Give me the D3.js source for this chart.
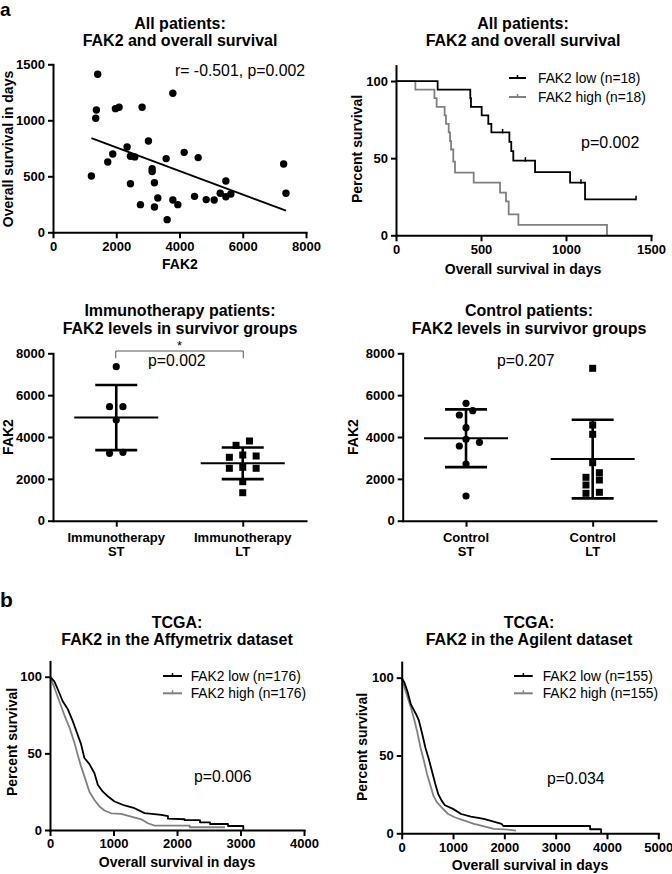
<!DOCTYPE html>
<html><head><meta charset="utf-8">
<script src="https://cdn.jsdelivr.net/npm/d3@7/dist/d3.min.js"></script>
<style>
html,body{margin:0;padding:0;background:#fff;}
svg{display:block;}
</style></head>
<body>
<svg id="chart" width="672" height="874"></svg>
<script>
// ================= DATA =================
// Panel a1: scatter FAK2 vs overall survival (36 patients)
const scatterFAK2 = [1214,1351,1372,1414,1731,1889,1974,2090,2343,2449,2449,2586,2765,2818,3018,3135,3135,3208,3208,3314,3578,3609,3789,3789,3947,4148,4475,4591,4844,5097,5287,5466,5466,5625,7293,7367];
const scatterOS   = [503,1018,1092,1411,628,699,1104,1116,762,679,434,673,247,1116,815,568,542,443,226,306,658,113,1241,289,247,714,321,667,292,289,348,458,318,342,610,348];
const scatterXTicks = [0,2000,4000,6000,8000];
const scatterYTicks = [0,500,1000,1500];
const scatterStats = "r= -0.501, p=0.002";

// Panel a2: Kaplan-Meier, all patients
const kmTopLowTime  = [0,245,437,441,504,543,561,667,678,690,818,1024,1112,1412];
const kmTopLowSurv  = [100,94.4,88.9,83.3,77.8,72.2,66.7,60.6,54.5,48.4,41.0,34.1,23.3,23.3];
const kmTopLowCensor = [627,761,1088,1412];
const kmTopHighTime = [0,114,226,239,286,294,310,318,324,337,347,457,612,647,663,720,1241];
const kmTopHighSurv = [100,94.4,88.9,83.3,77.8,72.2,66.7,61.1,55.6,47.7,40.6,34.1,27.6,22.0,13.6,6.8,0];
const kmTopXTicks = [0,500,1000,1500];
const kmYTicks = [0,50,100];
const kmTopLegend = ["FAK2 low (n=18)","FAK2 high (n=18)"];
const kmTopP = "p=0.002";

// Panel a3: immunotherapy dot plot
const immunoGroups = ["Immunotherapy ST","Immunotherapy LT"];
const immunoST = [7360,5448,5448,4812,3269,3221];
const immunoLT = [3809,3603,3140,3092,3030,2552,2504,2504,1864,1338];
const immunoP = "p=0.002";

// Panel a4: control dot plot
const controlGroups = ["Control ST","Control LT"];
const controlST = [5610,5257,5052,4444,3890,3746,3570,2710,1180];
const controlLT = [7283,4573,4129,2772,2294,2074,1945,1706,1357,1309];
const controlP = "p=0.207";
const dotYTicks = [0,2000,4000,6000,8000];

// Panel b1: TCGA Affymetrix
const affyLowTime  = [0,68,121,200,279,358,437,489,542,621,700,753,832,910,1016,1174,1332,1489,1753,1858,1858,2120,2120,2362,2362,2520,2520,2803,2803,3044,3044];
const affyLowSurv  = [100,97,92,84,79,71,62,56,47,43,37,29.5,25,22,18.6,16,14.2,11,9.8,9.0,7.4,7.0,6.4,6.4,5.0,5.0,3.9,3.9,2.6,2.6,0];
const affyHighTime = [0,68,147,226,305,384,437,489,542,621,700,779,858,963,1121,1279,1437,1542,1647,2200,2200,2756];
const affyHighSurv = [100,93,84,75,67,57,49,41.5,35,25,19.6,15.3,12.7,10.9,10.5,8.7,7,4.4,2.8,2.8,1.8,1.8];
const affyXTicks = [0,1000,2000,3000,4000];
const affyLegend = ["FAK2 low (n=176)","FAK2 high (n=176)"];
const affyP = "p=0.006";

// Panel b2: TCGA Agilent
const agiLowTime  = [0,51,114,177,272,335,399,462,525,589,652,715,778,842,1000,1158,1348,1601,1791,1949,1981,3671,3671,3885,3885];
const agiLowSurv  = [100,97,91,83,77,72.5,64,55,48,40,32,25,21,18,15.7,12.4,10.7,9.2,7.5,6,4.7,4.7,2.6,2.6,0];
const agiHighTime = [0,51,114,177,240,304,367,430,494,557,620,684,778,905,1032,1221,1411,1664,1791,2076,2228];
const agiHighSurv = [100,94,87.5,81,73.6,65,55,47,38,31,24,20,16.7,12.4,10.3,8.2,6,3.9,2.8,2.4,1.7];
const agiXTicks = [0,1000,2000,3000,4000,5000];
const agiLegend = ["FAK2 low (n=155)","FAK2 high (n=155)"];
const agiP = "p=0.034";

// ================= DRAWING =================
const FONT = '"Liberation Sans", Arial, Helvetica, sans-serif';
const GRAY = "#808080";
const svg = d3.select("#chart");

function txt(x, y, s, o = {}) {
  const t = svg.append("text").attr("x", x).attr("y", y).text(s)
    .attr("font-family", FONT)
    .attr("font-size", o.size || 13)
    .attr("font-weight", o.bold ? "bold" : "normal")
    .attr("text-anchor", o.anchor || "start")
    .attr("fill", o.fill || "#000");
  if (o.rotate) t.attr("transform", `rotate(-90,${x},${y})`);
  return t;
}
function styleAxis(g) {
  g.attr("font-family", null).attr("font-size", null);
  g.select(".domain").attr("stroke", "#000").attr("stroke-width", 2).attr("stroke-linecap", "square");
  g.selectAll(".tick line").attr("stroke", "#000").attr("stroke-width", 2);
  g.selectAll(".tick text").attr("font-family", FONT).attr("font-weight", "bold")
    .attr("font-size", 13).attr("fill", "#000");
}
function leftAxis(scale, x, ticks) {
  const g = svg.append("g").attr("transform", `translate(${x},0)`)
    .call(d3.axisLeft(scale).tickValues(ticks).tickSize(5).tickPadding(3).tickSizeOuter(0).tickFormat(d3.format("d")));
  styleAxis(g); return g;
}
function bottomAxis(scale, y, ticks, fmt) {
  let ax = d3.axisBottom(scale).tickSize(6).tickPadding(3).tickSizeOuter(0);
  if (ticks) ax = ax.tickValues(ticks);
  ax = ax.tickFormat(fmt || d3.format("d"));
  const g = svg.append("g").attr("transform", `translate(0,${y})`).call(ax);
  styleAxis(g); return g;
}
function title(cx, y1, l1, l2, gap) {
  txt(cx, y1, l1, {size: 16, bold: true, anchor: "middle"});
  txt(cx, y1 + gap, l2, {size: 16, bold: true, anchor: "middle"});
}
function legend(x1, x2, ys, labels, tx) {
  const cols = ["#000", GRAY];
  ys.forEach((y, i) => {
    svg.append("line").attr("x1", x1).attr("x2", x2).attr("y1", y).attr("y2", y)
      .attr("stroke", cols[i]).attr("stroke-width", 2);
    svg.append("line").attr("x1", (x1 + x2) / 2).attr("x2", (x1 + x2) / 2).attr("y1", y - 3).attr("y2", y)
      .attr("stroke", cols[i]).attr("stroke-width", 1.5);
    txt(tx, y + 5, labels[i], {size: 13.8});
  });
}

// Panel labels
txt(0, 16, "a", {size: 19, bold: true});
txt(0, 607, "b", {size: 21, bold: true});

// ---------- a1 scatter ----------
{
  const x = d3.scaleLinear([0, 8000], [53, 306]);
  const y = d3.scaleLinear([0, 1500], [232.3, 64.3]);
  title(180, 29, "All patients:", "FAK2 and overall survival", 16.5);
  const pts = scatterFAK2.map((v, i) => [v, scatterOS[i]]);
  // least squares fit from the data
  const mx = d3.mean(scatterFAK2), my = d3.mean(scatterOS);
  const sxy = d3.sum(pts, p => (p[0] - mx) * (p[1] - my));
  const sxx = d3.sum(pts, p => (p[0] - mx) ** 2);
  const b = sxy / sxx, a = my - b * mx;
  const [x0, x1] = d3.extent(scatterFAK2);
  svg.append("line").attr("x1", x(x0)).attr("y1", y(a + b * x0)).attr("x2", x(x1)).attr("y2", y(a + b * x1))
    .attr("stroke", "#000").attr("stroke-width", 2);
  svg.append("g").selectAll("circle").data(pts).join("circle")
    .attr("cx", d => x(d[0])).attr("cy", d => y(d[1])).attr("r", 3.7).attr("fill", "#000");
  leftAxis(y, 53, scatterYTicks);
  bottomAxis(x, 232.3, scatterXTicks);
  txt(175, 76, scatterStats, {size: 15.8});
  txt(180, 268.5, "FAK2", {size: 14, bold: true, anchor: "middle"});
  txt(13, 149, "Overall survival in days", {size: 14, bold: true, anchor: "middle", rotate: true});
}

// ---------- KM helper ----------
function kmStep(x, y, times, surv, color) {
  const line = d3.line().x(d => x(d[0])).y(d => y(d[1])).curve(d3.curveStepAfter);
  svg.append("path").attr("d", line(times.map((t, i) => [t, surv[i]])))
    .attr("fill", "none").attr("stroke", color).attr("stroke-width", 1.8);
}
function kmLinear(x, y, times, surv, color) {
  const line = d3.line().x(d => x(d[0])).y(d => y(d[1]));
  svg.append("path").attr("d", line(times.map((t, i) => [t, surv[i]])))
    .attr("fill", "none").attr("stroke", color).attr("stroke-width", 1.8).attr("stroke-linejoin", "round");
}

// ---------- a2 KM ----------
{
  const x = d3.scaleLinear([0, 1500], [396, 651]);
  const y = d3.scaleLinear([0, 110], [235.3, 65.6]);
  title(523, 29, "All patients:", "FAK2 and overall survival", 16.5);
  kmStep(x, y, kmTopHighTime, kmTopHighSurv, GRAY);
  kmStep(x, y, kmTopLowTime, kmTopLowSurv, "#000");
  kmTopLowCensor.forEach(t => {
    const i = d3.bisectRight(kmTopLowTime, t) - 1;
    const yy = y(kmTopLowSurv[i]);
    svg.append("line").attr("x1", x(t)).attr("x2", x(t)).attr("y1", yy - 3.5).attr("y2", yy + 1)
      .attr("stroke", "#000").attr("stroke-width", 1.5);
  });
  leftAxis(y, 396, kmYTicks);
  bottomAxis(x, 235.3, kmTopXTicks);
  legend(509, 526, [78, 97], kmTopLegend, 538);
  txt(581, 148, kmTopP, {size: 16});
  txt(523, 273.5, "Overall survival in days", {size: 14, bold: true, anchor: "middle"});
  txt(362, 149, "Percent survival", {size: 14, bold: true, anchor: "middle", rotate: true});
}

// ---------- dot plot helpers ----------
function swarm(values, y, cx) {
  const step = 6.7, L = 7.8, D = 8.5;
  const pts = values.map(v => ({v, y: y(v), slot: 0}));
  const sorted = pts.slice().sort((p, q) => p.y - q.y);
  const chains = [];
  sorted.forEach((p, i) => {
    if (i > 0 && p.y - sorted[i - 1].y < L) chains[chains.length - 1].push(p);
    else chains.push([p]);
  });
  chains.forEach(ch => {
    if (ch.length % 2 === 0) { ch.forEach((p, i) => p.slot = i % 2 === 0 ? 1 : -1); return; }
    let side = 1; const placed = [];
    ch.forEach(p => {
      const tries = [0, side, -side, 2 * side, -2 * side, 3 * side, -3 * side];
      for (const s of tries) {
        if (placed.every(q => Math.hypot((q.slot - s) * step, q.y - p.y) >= D)) { p.slot = s; break; }
      }
      if (p.slot !== 0) side = -Math.sign(p.slot);
      placed.push(p);
    });
  });
  return pts.map(p => ({v: p.v, x: cx + p.slot * step, y: p.y}));
}
function dotGroup(values, x, y, cx, shape) {
  const m = d3.mean(values), sd = d3.deviation(values);
  const g = svg.append("g");
  const ps = swarm(values, y, cx);
  if (shape === "circle") {
    g.selectAll("circle").data(ps).join("circle").attr("cx", d => d.x).attr("cy", d => d.y).attr("r", 3.6).attr("fill", "#000");
  } else {
    g.selectAll("rect").data(ps).join("rect").attr("x", d => d.x - 3.5).attr("y", d => d.y - 3.5)
      .attr("width", 7).attr("height", 7).attr("fill", "#000");
  }
  g.append("line").attr("x1", cx).attr("x2", cx).attr("y1", y(m + sd)).attr("y2", y(m - sd)).attr("stroke", "#000").attr("stroke-width", 2.6);
  [m + sd, m - sd].forEach(v => g.append("line").attr("x1", cx - 21).attr("x2", cx + 21).attr("y1", y(v)).attr("y2", y(v))
    .attr("stroke", "#000").attr("stroke-width", 2.7));
  g.append("line").attr("x1", cx - 42).attr("x2", cx + 42).attr("y1", y(m)).attr("y2", y(m)).attr("stroke", "#000").attr("stroke-width", 2);
}
function dotPanel(x0, x1, groups, st, lt, tcx, tl1, tl2, ylabX) {
  const y = d3.scaleLinear([0, 8000], [520.7, 353.3]);
  const x = d3.scalePoint(groups, [x0, x1]).padding(0.5);
  title(tcx, 316, tl1, tl2, 17.5);
  dotGroup(st, x, y, x(groups[0]), "circle");
  dotGroup(lt, x, y, x(groups[1]), "square");
  leftAxis(y, x0, dotYTicks);
  bottomAxis(x, 520.7, null, () => "");
  groups.forEach(gname => {
    const parts = gname.split(" ");
    txt(x(gname), 541.7, parts[0], {size: 13, bold: true, anchor: "middle"});
    txt(x(gname), 555.5, parts[1], {size: 13, bold: true, anchor: "middle"});
  });
  txt(ylabX, 437, "FAK2", {size: 14, bold: true, anchor: "middle", rotate: true});
  return {x, y};
}

// ---------- a3 immunotherapy ----------
{
  const {x} = dotPanel(53, 306, immunoGroups, immunoST, immunoLT, 180, "Immunotherapy patients:", "FAK2 levels in survivor groups", 13);
  const xa = x(immunoGroups[0]) - 0.5, xb = x(immunoGroups[1]) + 0.5;
  svg.append("path").attr("d", `M${xa},358.3V351H${xb}V358.3`).attr("fill", "none").attr("stroke", "#555").attr("stroke-width", 1);
  txt((xa + xb) / 2, 349.5, "*", {size: 13, anchor: "middle"});
  txt(148, 366, immunoP, {size: 15.8});
}

// ---------- a4 control ----------
{
  dotPanel(402.7, 656, controlGroups, controlST, controlLT, 529, "Control patients:", "FAK2 levels in survivor groups", 358);
  txt(497, 366, controlP, {size: 15.8});
}

// ---------- b1 Affymetrix ----------
{
  const x = d3.scaleLinear([0, 4000], [50, 304]);
  const y = d3.scaleLinear([0, 110], [830, 661.4]);
  title(177, 628, "TCGA:", "FAK2 in the Affymetrix dataset", 17);
  kmLinear(x, y, affyHighTime, affyHighSurv, GRAY);
  kmLinear(x, y, affyLowTime, affyLowSurv, "#000");
  leftAxis(y, 50, kmYTicks);
  bottomAxis(x, 830, affyXTicks);
  legend(163, 182, [676, 693.3], affyLegend, 190.7);
  txt(194, 782.3, affyP, {size: 15.8});
  txt(177, 867.3, "Overall survival in days", {size: 14, bold: true, anchor: "middle"});
  txt(17, 742, "Percent survival", {size: 14, bold: true, anchor: "middle", rotate: true});
}

// ---------- b2 Agilent ----------
{
  const x = d3.scaleLinear([0, 5000], [401.7, 658.3]);
  const y = d3.scaleLinear([0, 110], [833.3, 662.1]);
  title(529, 628, "TCGA:", "FAK2 in the Agilent dataset", 17);
  kmLinear(x, y, agiHighTime, agiHighSurv, GRAY);
  kmLinear(x, y, agiLowTime, agiLowSurv, "#000");
  leftAxis(y, 401.7, kmYTicks);
  bottomAxis(x, 833.3, agiXTicks);
  legend(514, 532.7, [676, 693.3], agiLegend, 542.7);
  txt(547, 784, agiP, {size: 15.8});
  txt(530, 870, "Overall survival in days", {size: 14, bold: true, anchor: "middle"});
  txt(367, 747, "Percent survival", {size: 14, bold: true, anchor: "middle", rotate: true});
}
</script>
</body></html>
